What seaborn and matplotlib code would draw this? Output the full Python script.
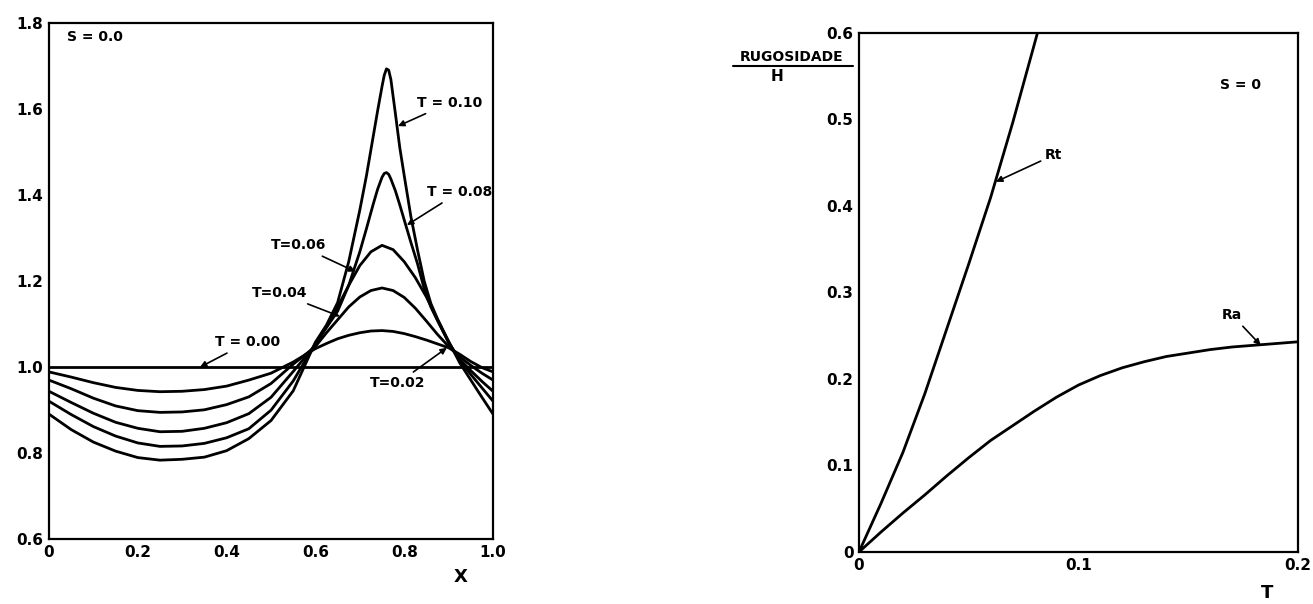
import numpy as np
import pandas as pd
import matplotlib.pyplot as plt
import seaborn as sns

# left panel: surface profile H(X) for several times T, S = 0.0
x_pos = [0.0, 0.05, 0.10, 0.15, 0.20, 0.25, 0.30, 0.35, 0.40, 0.45, 0.50, 0.55, 0.60,
         0.625, 0.65, 0.675, 0.70, 0.725, 0.75, 0.775, 0.80, 0.825, 0.85, 0.875,
         0.90, 0.925, 0.95, 0.975, 1.0]
# finer spacing round the sharp peaks of the later curves
x_fine = [0.0, 0.05, 0.10, 0.15, 0.20, 0.25, 0.30, 0.35, 0.40, 0.45, 0.50, 0.55, 0.60,
          0.625, 0.65, 0.675, 0.70, 0.715, 0.73, 0.74, 0.75, 0.755, 0.76, 0.765, 0.77,
          0.78, 0.79, 0.80, 0.815, 0.83, 0.845, 0.86, 0.875, 0.90, 0.925, 0.95, 0.975, 1.0]
x_flat = [0.0, 1.0]
h_000 = [1.0, 1.0]
h_002 = [0.989, 0.977, 0.964, 0.953, 0.946, 0.943, 0.944, 0.948, 0.956, 0.970, 0.986, 1.012, 1.043,
         1.055, 1.066, 1.074, 1.080, 1.084, 1.085, 1.083, 1.078, 1.071, 1.063, 1.054,
         1.045, 1.030, 1.013, 0.999, 0.989]
h_004 = [0.970, 0.950, 0.928, 0.910, 0.899, 0.895, 0.896, 0.901, 0.913, 0.931, 0.962, 1.007, 1.048,
         1.080, 1.110, 1.140, 1.163, 1.178, 1.184, 1.178, 1.162, 1.137, 1.107, 1.076,
         1.048, 1.024, 1.004, 0.986, 0.970]
h_006 = [0.944, 0.918, 0.893, 0.872, 0.858, 0.850, 0.851, 0.858, 0.871, 0.892, 0.930, 0.990, 1.052,
         1.095, 1.140, 1.190, 1.236, 1.268, 1.283, 1.273, 1.245, 1.208, 1.163, 1.110,
         1.057, 1.018, 0.992, 0.967, 0.944]
h_008 = [0.921, 0.890, 0.862, 0.840, 0.824, 0.816, 0.817, 0.823, 0.836, 0.857, 0.900, 0.968, 1.055,
         1.092, 1.130, 1.190, 1.268, 1.322, 1.378, 1.413, 1.441, 1.450, 1.452, 1.448, 1.437,
         1.410, 1.377, 1.342, 1.290, 1.240, 1.182, 1.140, 1.108, 1.058, 1.015, 0.983, 0.952, 0.921]
h_010 = [0.891, 0.855, 0.826, 0.805, 0.790, 0.784, 0.786, 0.791, 0.806, 0.834, 0.876, 0.945, 1.058,
         1.098, 1.150, 1.245, 1.365, 1.445, 1.535, 1.595, 1.652, 1.678, 1.693, 1.690, 1.668,
         1.590, 1.510, 1.445, 1.350, 1.272, 1.200, 1.148, 1.112, 1.060, 1.010, 0.970, 0.930, 0.891]

# right panel: roughness / H against T
t_rt = [0.0, 0.01, 0.02, 0.03, 0.04, 0.05, 0.06, 0.07, 0.08, 0.0813]
rt = [0.0, 0.056, 0.115, 0.183, 0.258, 0.333, 0.410, 0.496, 0.588, 0.600]
t_ra = [0.0, 0.01, 0.02, 0.03, 0.04, 0.05, 0.06, 0.07, 0.08, 0.09, 0.10, 0.11,
        0.12, 0.13, 0.14, 0.15, 0.16, 0.17, 0.18, 0.19, 0.20, 0.201]
ra = [0.0, 0.023, 0.045, 0.066, 0.088, 0.109, 0.129, 0.146, 0.163, 0.179, 0.193, 0.204,
      0.213, 0.220, 0.226, 0.230, 0.234, 0.237, 0.239, 0.241, 0.243, 0.243]

curves = [('0.02', x_pos, h_002), ('0.04', x_pos, h_004), ('0.06', x_pos, h_006),
          ('0.08', x_fine, h_008), ('0.10', x_fine, h_010)]
df = pd.concat([pd.DataFrame({'X': xs, 'H': h, 'T': t}) for t, xs, h in curves])
df0 = pd.DataFrame({'X': x_flat, 'H': h_000, 'T': '0.00'})
df = pd.concat([df0, df])

sns.set_theme(style='white')
plt.rcParams['font.family'] = ['DejaVu Sans']
plt.rcParams['font.weight'] = 'bold'
plt.rcParams['text.color'] = 'black'
plt.rcParams['axes.labelcolor'] = 'black'
plt.rcParams['xtick.direction'] = 'in'
plt.rcParams['ytick.direction'] = 'in'

fig = plt.figure(figsize=(13.13, 6.04), dpi=100)
ax1 = fig.add_axes([0.0373, 0.107, 0.3382, 0.8553])
ax2 = fig.add_axes([0.6542, 0.0861, 0.3344, 0.8593])

sns.lineplot(data=df, x='X', y='H', hue='T', palette=['black'] * 6, legend=False,
             linewidth=2, errorbar=None, ax=ax1)
sns.lineplot(x=t_rt, y=rt, color='black', linewidth=2, errorbar=None, ax=ax2)
sns.lineplot(x=t_ra, y=ra, color='black', linewidth=2, errorbar=None, ax=ax2)

for ax in (ax1, ax2):
    for s in ax.spines.values():
        s.set_visible(True)
        s.set_color('black')
        s.set_linewidth(1.6)
    ax.tick_params(length=7, width=1.2, pad=4, labelsize=11, colors='black')
    ax.set_xlabel('')
    ax.set_ylabel('')

ax1.set_xlim(0, 1.0)
ax1.set_ylim(0.6, 1.8)
ax1.set_xticks([0, 0.2, 0.4, 0.6, 0.8, 1.0])
ax1.set_xticklabels(['0', '0.2', '0.4', '0.6', '0.8', '1.0'], fontweight='bold')
ax1.set_yticks([0.6, 0.8, 1.0, 1.2, 1.4, 1.6, 1.8])
ax1.set_yticklabels(['0.6', '0.8', '1.0', '1.2', '1.4', '1.6', '1.8'], fontweight='bold')

ax2.set_xlim(0, 0.2)
ax2.set_ylim(0, 0.6)
ax2.set_xticks([0, 0.1, 0.2])
ax2.set_xticklabels(['0', '0.1', '0.2'], fontweight='bold')
ax2.set_yticks([0, 0.1, 0.2, 0.3, 0.4, 0.5, 0.6])
ax2.set_yticklabels(['0', '0.1', '0.2', '0.3', '0.4', '0.5', '0.6'], fontweight='bold')

arrow = dict(arrowstyle='-|>', color='black', lw=1.2, mutation_scale=9, shrinkA=1, shrinkB=0)
lab = dict(fontsize=10, fontweight='bold', color='black')

ax1.text(0.04, 1.766, 'S = 0.0', ha='left', va='center', **lab)
ax1.annotate('T = 0.10', xy=(0.786, 1.56), xytext=(0.829, 1.614), ha='left', va='center',
             arrowprops=arrow, **lab)
ax1.annotate('T = 0.08', xy=(0.806, 1.33), xytext=(0.851, 1.407), ha='left', va='center',
             arrowprops=arrow, **lab)
ax1.annotate('T=0.06', xy=(0.69, 1.222), xytext=(0.563, 1.283), ha='center', va='center',
             arrowprops=arrow, **lab)
ax1.annotate('T=0.04', xy=(0.655, 1.118), xytext=(0.52, 1.172), ha='center', va='center',
             arrowprops=arrow, **lab)
ax1.annotate('T = 0.00', xy=(0.34, 1.0), xytext=(0.448, 1.058), ha='center', va='center',
             arrowprops=arrow, **lab)
ax1.annotate('T=0.02', xy=(0.896, 1.045), xytext=(0.786, 0.963), ha='center', va='center',
             arrowprops=arrow, **lab)
ax1.text(0.926, 0.513, 'X', ha='center', va='center', fontsize=13, fontweight='bold', clip_on=False)

ax2.text(0.1736, 0.54, 'S = 0', ha='center', va='center', **lab)
ax2.annotate('Rt', xy=(0.0624, 0.428), xytext=(0.0888, 0.459), ha='center', va='center',
             arrowprops=arrow, **lab)
ax2.annotate('Ra', xy=(0.183, 0.239), xytext=(0.170, 0.274), ha='center', va='center',
             arrowprops=arrow, **lab)
ax2.text(0.186, -0.047, 'T', ha='center', va='center', fontsize=13, fontweight='bold', clip_on=False)

# y label of right panel written as a fraction
fig.text(0.603, 0.906, 'RUGOSIDADE', ha='center', va='center', **lab)
fig.add_artist(plt.Line2D([0.558, 0.650], [0.890, 0.890], transform=fig.transFigure,
                          color='black', lw=1.5))
fig.text(0.592, 0.873, 'H', ha='center', va='center', fontsize=11, fontweight='bold', color='black')

plt.savefig('out.png', dpi=100)
